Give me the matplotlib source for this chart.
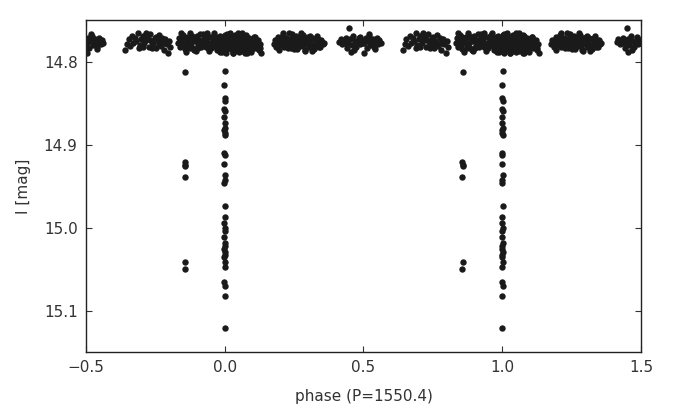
import matplotlib
matplotlib.use("Agg")
import matplotlib.pyplot as plt
import numpy as np

period_label = "phase (P=1550.4)"
y_label = "I [mag]"
x_ticks = [-0.5, 0.0, 0.5, 1.0, 1.5]
y_ticks = [14.8, 14.9, 15.0, 15.1]

# Out-of-eclipse baseline (phase in [-0.5, 0.5))
base_phase_a = [-0.498, -0.497, -0.492, -0.488, -0.484, -0.479, -0.475, -0.470, -0.466,
                -0.461, -0.456, -0.452, -0.447, -0.443, -0.438, -0.481, -0.459]
base_mag_a = [14.789, 14.778, 14.772, 14.784, 14.775, 14.769, 14.780, 14.776, 14.773,
              14.782, 14.777, 14.771, 14.779, 14.774, 14.777, 14.767, 14.785]

base_phase_b = [-0.358, -0.352, -0.345, -0.340, -0.334, -0.329, -0.323, -0.318, -0.312,
                -0.307, -0.301, -0.296, -0.290, -0.285, -0.279, -0.274, -0.268, -0.263,
                -0.257, -0.252, -0.246, -0.241, -0.236, -0.230, -0.225, -0.220, -0.214,
                -0.209, -0.204, -0.200, -0.196, -0.248, -0.262, -0.285, -0.310, -0.226,
                -0.238, -0.270, -0.295, -0.215]
base_mag_b = [14.786, 14.779, 14.773, 14.781, 14.769, 14.777, 14.772, 14.775, 14.766,
              14.780, 14.773, 14.769, 14.778, 14.774, 14.771, 14.782, 14.767, 14.776,
              14.779, 14.772, 14.784, 14.775, 14.768, 14.781, 14.777, 14.786, 14.773,
              14.779, 14.790, 14.775, 14.782, 14.770, 14.783, 14.765, 14.784, 14.771,
              14.780, 14.774, 14.782, 14.778]

base_phase_c = [-0.168, -0.164, -0.160, -0.156, -0.152, -0.148, -0.144, -0.140, -0.136,
                -0.132, -0.128, -0.124, -0.120, -0.116, -0.112, -0.108, -0.104, -0.100,
                -0.096, -0.092, -0.088, -0.084, -0.080, -0.076, -0.072, -0.068, -0.064,
                -0.060, -0.056, -0.052, -0.048, -0.044, -0.040, -0.036, -0.032, -0.028,
                -0.024, -0.020, -0.016, -0.012, -0.008, -0.004, 0.000, 0.004, 0.008,
                0.012, 0.016, 0.020, 0.024, 0.028, 0.032, 0.036, 0.040, 0.044, 0.048,
                0.052, 0.056, 0.060, 0.064, 0.068, 0.072, 0.076, 0.080, 0.084, 0.088,
                0.092, 0.096, 0.100, 0.104, 0.108, 0.112, 0.116, 0.120, 0.124, 0.128,
                0.132,
                -0.158, -0.138, -0.118, -0.098, -0.078, -0.058, -0.038, -0.030, -0.022,
                -0.014, -0.006, -0.002, 0.002, 0.006, 0.010, 0.014, 0.018, 0.022, 0.026,
                0.030, 0.034, 0.038, 0.042, 0.046, 0.050, 0.054, 0.058, 0.062, 0.066,
                0.070, 0.074, 0.078, 0.082, 0.086, 0.090, 0.098, 0.106, 0.114, 0.122,
                -0.010, 0.001, 0.011, 0.021, 0.031, 0.041, 0.051, 0.061, 0.071, 0.081,
                -0.026, -0.046, -0.066, -0.086, -0.106, -0.126, -0.146,
                -0.150, -0.130, -0.110, -0.090, -0.070, -0.050, -0.034, -0.018, -0.003,
                0.009, 0.019, 0.029, 0.039, 0.049, 0.059, 0.069, 0.079, 0.093, 0.110,
                0.126]
base_mag_c = [14.777, 14.771, 14.782, 14.774, 14.768, 14.779, 14.785, 14.773, 14.776,
              14.770, 14.781, 14.766, 14.778, 14.783, 14.772, 14.775, 14.787, 14.769,
              14.780, 14.774, 14.767, 14.782, 14.776, 14.771, 14.779, 14.773, 14.765,
              14.784, 14.777, 14.770, 14.781, 14.775, 14.768, 14.779, 14.772, 14.786,
              14.774, 14.778, 14.769, 14.782, 14.776, 14.771, 14.780, 14.773, 14.767,
              14.784, 14.777, 14.772, 14.779, 14.789, 14.774, 14.769, 14.781, 14.776,
              14.765, 14.783, 14.778, 14.771, 14.775, 14.786, 14.773, 14.768, 14.780,
              14.784, 14.772, 14.777, 14.788, 14.775, 14.781, 14.770, 14.783, 14.778,
              14.774, 14.786, 14.779, 14.790,
              14.765, 14.788, 14.769, 14.784, 14.767, 14.787, 14.765, 14.782, 14.770,
              14.787, 14.773, 14.783, 14.768, 14.789, 14.775, 14.780, 14.766, 14.785,
              14.771, 14.778, 14.787, 14.768, 14.782, 14.773, 14.788, 14.770, 14.781,
              14.766, 14.784, 14.776, 14.789, 14.769, 14.782, 14.773, 14.779, 14.785,
              14.770, 14.776, 14.782, 14.788, 14.771, 14.779, 14.774, 14.781, 14.786,
              14.769, 14.783, 14.775, 14.777, 14.772, 14.778, 14.782, 14.776, 14.773,
              14.784, 14.770,
              14.780, 14.772, 14.786, 14.776, 14.769, 14.783, 14.778, 14.788, 14.771,
              14.784, 14.777, 14.790, 14.772, 14.781, 14.787, 14.775, 14.789, 14.779,
              14.774, 14.784]

base_phase_d = [0.177, 0.181, 0.185, 0.189, 0.193, 0.197, 0.201, 0.205, 0.209, 0.213,
                0.217, 0.221, 0.225, 0.229, 0.233, 0.237, 0.241, 0.245, 0.249, 0.253,
                0.257, 0.261, 0.265, 0.269, 0.273, 0.277, 0.281, 0.285, 0.289, 0.293,
                0.297, 0.301, 0.305, 0.309, 0.313, 0.317, 0.321, 0.325, 0.329, 0.333,
                0.337, 0.341, 0.345, 0.349, 0.353, 0.357,
                0.195, 0.211, 0.227, 0.243, 0.259, 0.275, 0.291, 0.307, 0.323, 0.339,
                0.203, 0.219, 0.235, 0.251, 0.267, 0.283, 0.299, 0.315, 0.331, 0.347,
                0.263, 0.287, 0.311, 0.255, 0.279, 0.303]
base_mag_d = [14.779, 14.774, 14.782, 14.776, 14.770, 14.780, 14.773, 14.777, 14.768,
              14.782, 14.774, 14.771, 14.779, 14.775, 14.766, 14.783, 14.777, 14.772,
              14.780, 14.774, 14.769, 14.785, 14.776, 14.771, 14.781, 14.773, 14.768,
              14.779, 14.786, 14.774, 14.777, 14.770, 14.782, 14.775, 14.771, 14.780,
              14.784, 14.773, 14.777, 14.769, 14.779, 14.774, 14.782, 14.776, 14.779,
              14.777,
              14.786, 14.765, 14.784, 14.767, 14.783, 14.766, 14.787, 14.769, 14.785,
              14.782, 14.772, 14.778, 14.773, 14.785, 14.776, 14.781, 14.774, 14.787,
              14.771, 14.774, 14.778, 14.772, 14.781, 14.775, 14.770, 14.779]

base_phase_e = [0.412, 0.418, 0.424, 0.430, 0.436, 0.441, 0.446, 0.452, 0.458, 0.463,
                0.469, 0.474, 0.479, 0.484, 0.489, 0.494, 0.499, 0.448, 0.433, 0.467,
                0.486, 0.455]
base_mag_e = [14.776, 14.773, 14.779, 14.775, 14.771, 14.784, 14.777, 14.773, 14.780,
              14.769, 14.775, 14.782, 14.777, 14.772, 14.779, 14.774, 14.778, 14.759,
              14.778, 14.786, 14.770, 14.788]

# Primary eclipse near phase 0
ecl_phase = [0.001, -0.001, 0.000, 0.002, -0.002, 0.001, -0.001, 0.000, 0.002, -0.001,
             0.000, 0.001, -0.001, 0.000, -0.002, 0.001, 0.000, -0.001, 0.001, 0.000,
             -0.001, 0.001, 0.000, -0.002, 0.001, 0.000, -0.001, 0.001, 0.000, -0.001,
             0.001, 0.000, -0.001, 0.001, 0.000, 0.000]
ecl_mag = [14.811, 14.828, 14.844, 14.848, 14.857, 14.859, 14.867, 14.874, 14.880, 14.882,
           14.886, 14.888, 14.910, 14.912, 14.923, 14.937, 14.943, 14.946, 14.974, 14.987,
           14.994, 15.000, 15.004, 15.011, 15.018, 15.022, 15.026, 15.030, 15.033, 15.036,
           15.042, 15.048, 15.065, 15.070, 15.083, 15.121]

# Points near phase -0.14
sec_phase = [-0.143, -0.144, -0.143, -0.142, -0.144, -0.143, -0.144]
sec_mag = [14.813, 14.921, 14.924, 14.926, 14.939, 15.042, 15.050]

phase = np.array(base_phase_a + base_phase_b + base_phase_c + base_phase_d + base_phase_e
                 + ecl_phase + sec_phase)
mag = np.array(base_mag_a + base_mag_b + base_mag_c + base_mag_d + base_mag_e
               + ecl_mag + sec_mag)

fig = plt.figure(figsize=(6.89, 4.12), dpi=100)
ax = fig.add_axes([0.1248, 0.1456, 0.8055, 0.8054])

for shift in (0.0, 1.0):
    ax.plot(phase + shift, mag, linestyle="none", marker="o", ms=4.6, mew=0,
            color="#1a1a1a")

ax.set_xlim(-0.5, 1.5)
ax.set_ylim(15.15, 14.75)
ax.set_xticks(x_ticks)
ax.set_yticks(y_ticks)
ax.set_xticklabels(["\u22120.5", "0.0", "0.5", "1.0", "1.5"])
ax.set_yticklabels(["14.8", "14.9", "15.0", "15.1"])
ax.tick_params(direction="in", top=True, right=True, length=4, width=0.8,
               labelsize=11, colors="#333333", pad=6)
for s in ax.spines.values():
    s.set_color("#222222")
    s.set_linewidth(1.0)
ax.set_xlabel(period_label, fontsize=11, color="#333333", labelpad=10)
ax.set_ylabel(y_label, fontsize=11, color="#333333", labelpad=9)

fig.savefig("out.png", dpi=100)
